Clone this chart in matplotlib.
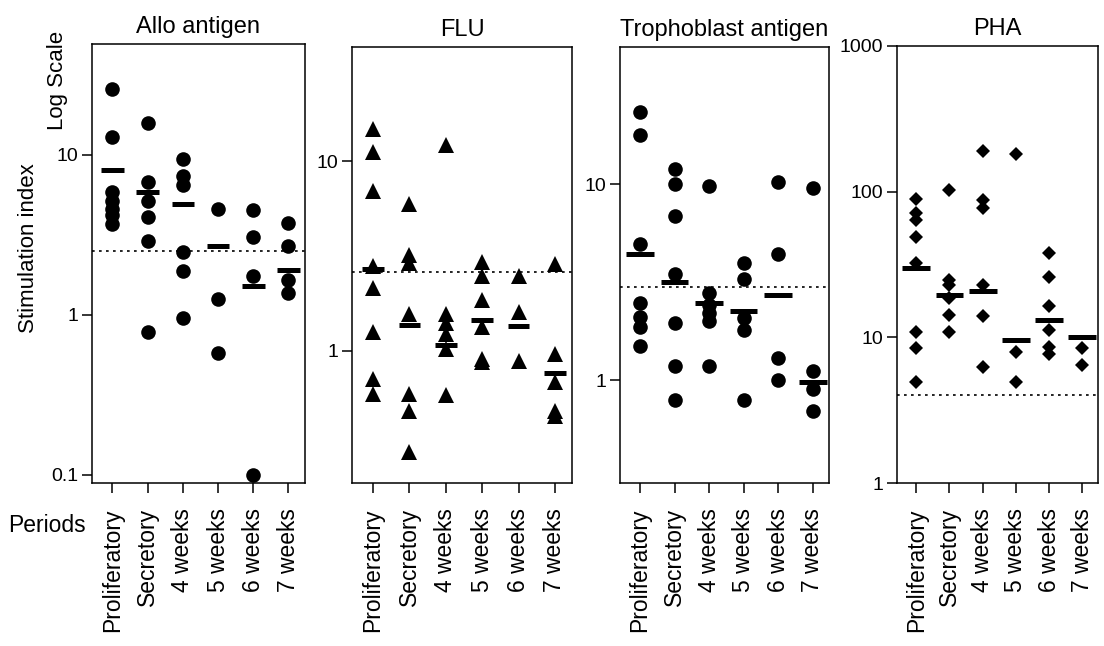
import matplotlib
matplotlib.use("Agg")
import matplotlib.pyplot as plt
from matplotlib.ticker import FixedLocator, FixedFormatter, NullLocator

plt.rcParams['font.family'] = ['Liberation Sans', 'DejaVu Sans']

categories = ["Proliferatory", "Secretory", "4 weeks", "5 weeks", "6 weeks", "7 weeks"]
titles = ["Allo antigen", "FLU", "Trophoblast antigen", "PHA"]

# stimulation index per period
allo_values = [
    [25.7, 12.8, 5.8, 5.1, 4.6, 4.2, 3.7],
    [15.8, 6.7, 5.1, 4.1, 2.9, 0.78],
    [9.4, 7.3, 6.5, 2.45, 1.87, 0.96],
    [4.6, 1.25, 0.58],
    [4.5, 3.06, 1.75, 0.1],
    [3.74, 2.67, 1.65, 1.37],
]
allo_means = [8.0, 5.8, 4.9, 2.7, 1.52, 1.9]
allo_cutoff = 2.5

flu_values = [
    [14.7, 11.1, 6.95, 2.8, 2.15, 1.25, 0.71, 0.59],
    [5.9, 3.2, 2.9, 1.55, 0.59, 0.48, 0.29],
    [12.2, 1.56, 1.39, 1.22, 1.02, 0.58],
    [2.95, 2.48, 1.85, 1.33, 0.9, 0.87],
    [2.48, 1.59, 0.88],
    [2.86, 0.96, 0.68, 0.48, 0.45],
]
flu_means = [2.7, 1.37, 1.07, 1.45, 1.34, 0.76]
flu_cutoff = 2.6

troph_values = [
    [23.4, 17.8, 4.98, 2.47, 2.11, 1.88, 1.49],
    [12.0, 10.0, 6.86, 3.48, 1.97, 1.18, 0.79],
    [9.77, 2.78, 2.42, 2.2, 2.0, 1.19],
    [3.97, 3.27, 2.07, 1.81, 0.79],
    [10.2, 4.43, 1.3, 1.0],
    [9.6, 1.12, 0.9, 0.7],
]
troph_means = [4.43, 3.18, 2.49, 2.27, 2.72, 0.98]
troph_cutoff = 3.0

pha_values = [
    [88.5, 71, 64, 48.6, 32.2, 10.9, 8.4, 4.9],
    [102.6, 24.7, 22.9, 18.6, 14.2, 10.8],
    [191, 87.5, 76.8, 22.9, 14.0, 6.3],
    [180, 7.96, 4.91],
    [38, 26, 16.4, 11.2, 8.6, 7.7],
    [8.4, 6.45],
]
pha_means = [29.8, 19.5, 20.9, 9.58, 13.1, 10.0]
pha_cutoff = 4.0

yticks = [[0.1, 1, 10], [1, 10], [1, 10], [1, 10, 100, 1000]]
yticklabels = [["0.1", "1", "10"], ["1", "10"], ["1", "10"], ["1", "10", "100", "1000"]]
ylims = [(0.089, 49), (0.2, 40), (0.3, 50), (1, 1000)]

panels = [
    (allo_values, allo_means, allo_cutoff, 'o', 10.5, 0.64),
    (flu_values, flu_means, flu_cutoff, '^', 11.5, 0.6),
    (troph_values, troph_means, troph_cutoff, 'o', 10.5, 0.8),
    (pha_values, pha_means, pha_cutoff, 'D', 7.5, 0.84),
]
# axes boxes in pixels: left, right, top, bottom
boxes = [(92, 305, 44, 483), (352, 572, 47, 483), (620, 829, 47, 483), (897, 1098, 46, 483)]

W, H = 1104, 646
fig = plt.figure(figsize=(W / 100, H / 100), dpi=100)

for k, (vals, means, cut, mk, ms, bw) in enumerate(panels):
    l, r, t, b = boxes[k]
    ax = fig.add_axes([l / W, 1 - b / H, (r - l) / W, (b - t) / H])
    for i, v in enumerate(vals):
        ax.plot([i] * len(v), v, mk, color='black', ms=ms, mew=0, clip_on=False)
        ax.hlines(means[i], i - bw / 2, i + bw / 2, color='black', lw=3.6)
    ax.axhline(cut, color='black', lw=1.2, ls=(0, (1.6, 2.6)))
    ax.set_yscale('log')
    ax.set_ylim(*ylims[k])
    ax.set_xlim(-0.58, 5.47)
    ax.yaxis.set_major_locator(FixedLocator(yticks[k]))
    ax.yaxis.set_major_formatter(FixedFormatter(yticklabels[k]))
    ax.yaxis.set_minor_locator(NullLocator())
    ax.set_xticks(range(len(categories)))
    ax.set_xticklabels(categories, rotation=90, fontsize=16.5)
    ax.tick_params(axis='x', direction='out', length=7, width=1.1, pad=11)
    ax.tick_params(axis='y', direction='out', length=7, width=1.1, pad=3, labelsize=14)
    for s in ax.spines.values():
        s.set_linewidth(1.1)
    ax.set_title(titles[k], fontsize=17, pad=8)

fig.text(29 / W, 1 - 248 / H, "Stimulation index", rotation=90, ha='center', va='center', fontsize=16)
fig.text(57 / W, 1 - 80 / H, "Log Scale", rotation=90, ha='center', va='center', fontsize=16)
fig.text(8 / W, 1 - 525 / H, "Periods", ha='left', va='center', fontsize=16.5)

fig.savefig("out.png", dpi=100)
